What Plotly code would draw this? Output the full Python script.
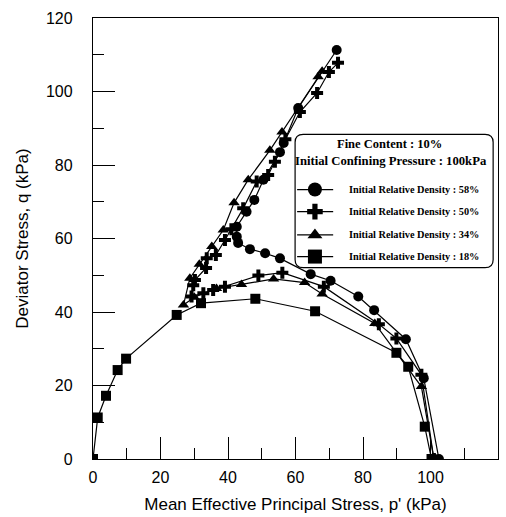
import plotly.graph_objects as go

# Effective stress paths (p', q) in kPa for each initial relative density
p_dr58 = [102.5, 98.0, 92.7, 83.3, 78.6, 70.4, 64.5, 55.4, 51.0, 46.5, 43.0, 42.6, 42.6, 45.5, 47.8, 50.5, 55.4, 56.5, 60.8, 72.2]
q_dr58 = [0.0, 22.0, 32.6, 40.5, 44.2, 48.5, 50.3, 54.6, 56.0, 57.1, 58.8, 60.5, 63.2, 67.3, 70.5, 76.0, 83.5, 86.0, 95.5, 111.3]

p_dr50 = [101.0, 97.3, 89.9, 84.7, 68.4, 56.1, 49.0, 39.1, 35.6, 32.7, 29.2, 29.7, 30.2, 33.5, 33.7, 36.4, 39.1, 41.0, 44.5, 48.5, 51.9, 53.9, 57.0, 61.3, 66.4, 69.9, 72.6]
q_dr50 = [0.0, 22.9, 32.8, 36.7, 46.9, 50.7, 49.9, 46.9, 46.0, 45.1, 44.2, 47.3, 48.7, 52.0, 54.6, 55.5, 59.6, 62.5, 68.2, 75.5, 77.3, 80.9, 87.0, 94.4, 99.6, 105.3, 107.8]

p_dr34 = [101.0, 97.3, 83.5, 67.9, 62.7, 53.5, 44.0, 36.6, 30.0, 26.8, 28.7, 31.5, 35.2, 38.6, 41.8, 46.0, 52.4, 56.0, 66.7, 67.9]
q_dr34 = [0.0, 19.7, 36.9, 44.9, 48.0, 49.0, 47.5, 46.4, 44.0, 41.9, 49.2, 53.0, 57.8, 62.3, 69.7, 76.0, 84.0, 89.0, 104.0, 105.5]

p_dr18 = [100.3, 98.3, 93.4, 89.9, 65.8, 48.1, 32.0, 24.8, 9.8, 7.3, 3.85, 1.4, 0.0]
q_dr18 = [0.0, 8.8, 25.1, 28.9, 40.2, 43.6, 42.4, 39.2, 27.3, 24.2, 17.2, 11.3, 0.0]

series_labels = [
    "Initial Relative Density : 58%",
    "Initial Relative Density : 50%",
    "Initial Relative Density : 34%",
    "Initial Relative Density : 18%",
]
box_title = ["Fine Content : 10%", "Initial Confining Pressure : 100kPa"]

x_title = "Mean Effective Principal Stress, p' (kPa)"
y_title = "Deviator Stress, q (kPa)"

symbols = ["circle", "cross", "triangle-up", "square"]
sizes = [10, 10, 10, 10]
key_sizes = [14, 13, 13, 14]

paths = [(p_dr58, q_dr58), (p_dr50, q_dr50), (p_dr34, q_dr34), (p_dr18, q_dr18)]

fig = go.Figure()
for (px, qy), sym, sz, name in zip(paths, symbols, sizes, series_labels):
    fig.add_trace(go.Scatter(
        x=px, y=qy, mode="lines+markers", name=name,
        line=dict(color="black", width=1.2),
        marker=dict(symbol=sym, size=sz, color="black", line=dict(width=0)),
        showlegend=False,
    ))

# Hand-drawn key inside a rounded box (paper coordinates = plot area)
key_rows = [0.611, 0.561, 0.508, 0.459]
key_x0, key_x1, key_xm = 0.504, 0.593, 0.548
for yk, sym, ks in zip(key_rows, symbols, key_sizes):
    fig.add_trace(go.Scatter(
        x=[key_x0, key_xm, key_x1], y=[yk, yk, yk], mode="lines",
        line=dict(color="black", width=1.2),
        xaxis="x2", yaxis="y2", showlegend=False, hoverinfo="skip",
    ))
    fig.add_trace(go.Scatter(
        x=[key_xm], y=[yk], mode="markers",
        marker=dict(symbol=sym, size=ks, color="black", line=dict(width=0)),
        xaxis="x2", yaxis="y2", showlegend=False, hoverinfo="skip",
    ))

bx0, bx1, by0, by1 = 0.499, 0.988, 0.434, 0.736
rx, ry = 0.02, 0.018
box_path = (
    f"M {bx0+rx},{by1} L {bx1-rx},{by1} Q {bx1},{by1} {bx1},{by1-ry} "
    f"L {bx1},{by0+ry} Q {bx1},{by0} {bx1-rx},{by0} "
    f"L {bx0+rx},{by0} Q {bx0},{by0} {bx0},{by0+ry} "
    f"L {bx0},{by1-ry} Q {bx0},{by1} {bx0+rx},{by1} Z"
)

serif_bold = "Liberation Serif, Times New Roman, serif"
annotations = [
    dict(x=0.733, y=0.715, xref="paper", yref="paper", text=f"<b>{box_title[0]}</b>",
         showarrow=False, font=dict(family=serif_bold, size=12.5, color="black"),
         xanchor="center", yanchor="middle"),
    dict(x=0.735, y=0.676, xref="paper", yref="paper", text=f"<b>{box_title[1]}</b>",
         showarrow=False, font=dict(family=serif_bold, size=12.7, color="black"),
         xanchor="center", yanchor="middle"),
]
for yk, name in zip(key_rows, series_labels):
    annotations.append(dict(
        x=0.627, y=yk, xref="paper", yref="paper", text=f"<b>{name}</b>",
        showarrow=False, font=dict(family=serif_bold, size=10.3, color="black"),
        xanchor="left", yanchor="middle"))

tick_font = dict(family="Liberation Sans Narrow, Arial Narrow, Liberation Sans, Arial", size=16, color="black")
title_font = dict(family="Liberation Sans, Arial, sans-serif", size=17, color="black")

axis_common = dict(
    showgrid=False, zeroline=False, showline=True, linecolor="black", linewidth=1.3,
    mirror=True, ticks="inside", ticklen=22, tickwidth=1.2, tickcolor="black",
    tickfont=tick_font, range=[0, 120], dtick=20, tick0=0,
    minor=dict(ticks="inside", ticklen=11, tickwidth=1.2, tickcolor="black", dtick=10),
)

fig.update_layout(
    width=506, height=517,
    margin=dict(l=93, r=8, t=18, b=58),
    paper_bgcolor="white", plot_bgcolor="white",
    xaxis=dict(axis_common, ticklabelstandoff=4,
               title=dict(text=x_title, font=title_font, standoff=12)),
    yaxis=dict(axis_common, ticklabelstandoff=16,
               title=dict(text=y_title, font=title_font, standoff=12)),
    xaxis2=dict(overlaying="x", range=[0, 1], visible=False, fixedrange=True),
    yaxis2=dict(overlaying="y", range=[0, 1], visible=False, fixedrange=True),
    shapes=[dict(type="path", path=box_path, xref="paper", yref="paper",
                 line=dict(color="black", width=1.2), fillcolor="rgba(0,0,0,0)")],
    annotations=annotations,
    showlegend=False,
)

fig.write_html("out.html")
